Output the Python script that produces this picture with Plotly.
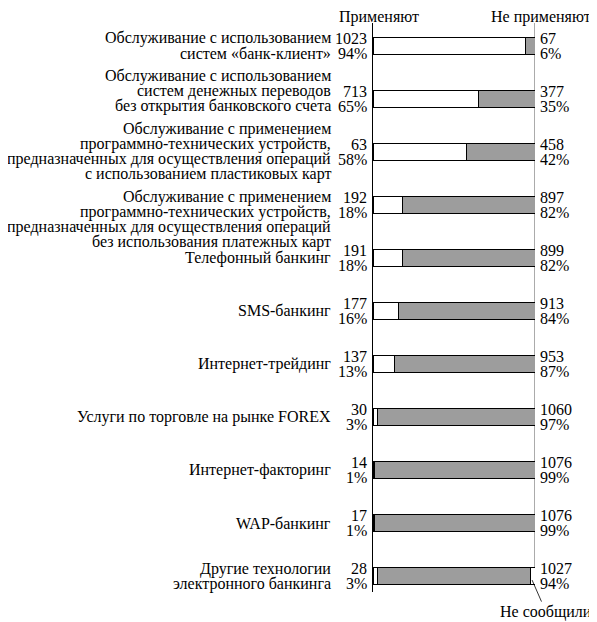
import plotly.graph_objects as go

categories = [
    "Обслуживание с использованием<br>систем «банк-клиент»",
    "Обслуживание с использованием<br>систем денежных переводов<br>без открытия банковского счета",
    "Обслуживание с применением<br>программно-технических устройств,<br>предназначенных для осуществления операций<br>с использованием пластиковых карт",
    "Обслуживание с применением<br>программно-технических устройств,<br>предназначенных для осуществления операций<br>без использования платежных карт",
    "Телефонный банкинг",
    "SMS-банкинг",
    "Интернет-трейдинг",
    "Услуги по торговле на рынке FOREX",
    "Интернет-факторинг",
    "WAP-банкинг",
    "Другие технологии<br>электронного банкинга",
]
applied_n = [1023, 713, 63, 192, 191, 177, 137, 30, 14, 17, 28]
applied_pct = [94, 65, 58, 18, 18, 16, 13, 3, 1, 1, 3]
not_applied_n = [67, 377, 458, 897, 899, 913, 953, 1060, 1076, 1076, 1027]
not_applied_pct = [6, 35, 42, 82, 82, 84, 87, 97, 99, 99, 94]
not_reported_pct = [100 - a - b for a, b in zip(applied_pct, not_applied_pct)]

header_left = "Применяют"
header_right = "Не применяют"
note_text = "Не сообщили"

FONT = "Liberation Serif"
FS = 16
GREY = "#9d9d9d"
LINE_H = 15
# which label line aligns with the upper number line (layout choice)
align_line = [0, 1, 1, 0, 0, 0, 0, 0, 0, 0, 0]

fig = go.Figure()
bar_w = 0.32
common = dict(orientation="h", y=categories, width=bar_w,
              marker_line_color="black", marker_line_width=1,
              hoverinfo="skip", showlegend=False)
fig.add_trace(go.Bar(x=applied_pct, marker_color="white", **common))
fig.add_trace(go.Bar(x=not_applied_pct, marker_color=GREY, **common))
fig.add_trace(go.Bar(x=not_reported_pct, marker_color="white", **common))

ann = []
tf = dict(family=FONT, size=FS, color="black")
for i, cat in enumerate(categories):
    lines = cat.split("<br>")
    n = len(lines)
    for j, ln in enumerate(lines):
        off = 0 if n == 1 else -7.5 + (j - align_line[i]) * LINE_H
        ann.append(dict(x=0, y=cat, xref="x", yref="y", text=ln, showarrow=False,
                        xanchor="right", yanchor="middle", xshift=-40, yshift=-off,
                        font=tf))
    for k, t in enumerate([str(applied_n[i]), f"{applied_pct[i]}%"]):
        ann.append(dict(x=0, y=cat, xref="x", yref="y", text=t, showarrow=False,
                        xanchor="right", yanchor="middle", xshift=-4,
                        yshift=7.5 - 15 * k, font=tf))
    for k, t in enumerate([str(not_applied_n[i]), f"{not_applied_pct[i]}%"]):
        ann.append(dict(x=100, y=cat, xref="x", yref="y", text=t, showarrow=False,
                        xanchor="left", yanchor="middle", xshift=3,
                        yshift=7.5 - 15 * k, font=tf))

ann.append(dict(x=0, y=categories[0], xref="x", yref="y", text=header_left,
                showarrow=False, xanchor="center", yanchor="middle",
                xshift=6, yshift=29, font=tf))
ann.append(dict(x=100, y=categories[0], xref="x", yref="y", text=header_right,
                showarrow=False, xanchor="center", yanchor="middle",
                xshift=6, yshift=29, font=tf))
last = len(categories) - 1
ann.append(dict(x=applied_pct[last] + not_applied_pct[last] + not_reported_pct[last] * 0.4,
                y=categories[last], xref="x", yref="y", text=note_text,
                showarrow=True, arrowhead=0, arrowwidth=0.8, arrowcolor="black",
                ax=14, ay=32, yshift=-4, font=tf))

shapes = [
    dict(type="line", xref="x", yref="y domain", x0=100, x1=100, y0=0.044, y1=1,
         line=dict(color="#ababab", width=2), layer="below"),
]

# the page body has an 8px margin, so the figure is drawn at (8, 8):
# its size is reduced by 8 so it fills the 597x622 window exactly
fig.update_layout(
    width=589, height=614,
    margin=dict(l=365, r=62, t=15, b=30),
    paper_bgcolor="white", plot_bgcolor="white",
    barmode="stack",
    xaxis=dict(range=[0, 100], visible=False, fixedrange=True),
    yaxis=dict(range=[10.30, -0.425], showticklabels=False, showgrid=False,
               zeroline=False, showline=True, linecolor="black", linewidth=1,
               ticks=""),
    annotations=ann, shapes=shapes,
    font=tf,
)
fig.write_html("out.html")
